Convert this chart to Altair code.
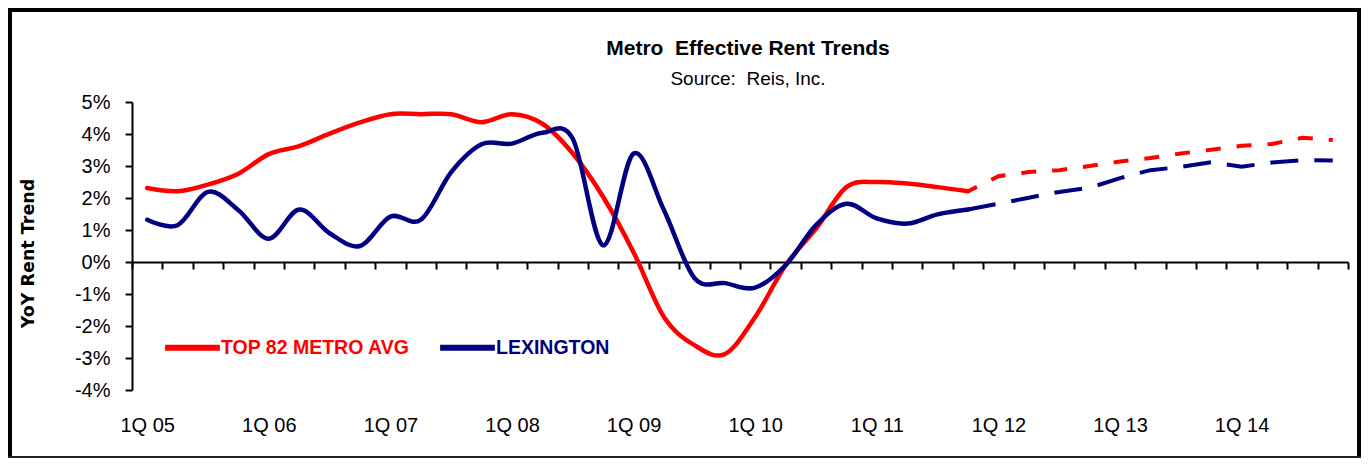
import json
import altair as alt
import pandas as pd

# ---------------- data ----------------
years = ["05", "06", "07", "08", "09", "10", "11", "12", "13", "14"]
quarters = [f"{q}Q {y}" for y in years for q in (1, 2, 3, 4)]   # 1Q 05 .. 4Q 14
year_labels = [f"1Q {y}" for y in years]
y_ticks = [-4, -3, -2, -1, 0, 1, 2, 3, 4, 5]

series_names = ["TOP 82 METRO AVG", "LEXINGTON"]
series_colors = ["#FF0000", "#000080"]

# actual YoY effective rent change, 1Q 05 .. 4Q 11 (%)
metro_actual = [2.31, 2.21, 2.42, 2.76, 3.37, 3.62, 4.01, 4.36,
                4.62, 4.62, 4.62, 4.37, 4.62, 4.32, 3.39, 2.03,
                0.30, -1.72, -2.60, -2.88, -1.72, -0.10, 1.04, 2.34,
                2.50, 2.45, 2.34, 2.21]
lex_actual = [1.32, 1.15, 2.19, 1.62, 0.73, 1.64, 0.90, 0.50,
              1.42, 1.32, 2.81, 3.68, 3.70, 4.04, 3.85, 0.52,
              3.39, 1.62, -0.50, -0.66, -0.80, -0.10, 1.15, 1.82,
              1.36, 1.20, 1.49, 1.64]

# forecast, 4Q 11 .. 4Q 14 (%)
forecast_start = 27
metro_forecast = [2.21, 2.68, 2.81, 2.87, 3.00, 3.14, 3.25, 3.39,
                  3.51, 3.63, 3.69, 3.88, 3.81]
lex_forecast = [1.64, 1.82, 2.01, 2.19, 2.32, 2.62, 2.87, 2.97,
                3.12, 2.98, 3.11, 3.18, 3.17]

# ---------------- tables ----------------
def rows(values, name, start):
    return [{"quarter": quarters[start + i], "pos": start + i + 0.5,
             "value": v, "series": name} for i, v in enumerate(values)]

actual = pd.DataFrame(rows(metro_actual, series_names[0], 0) +
                      rows(lex_actual, series_names[1], 0))
forecast = pd.DataFrame(rows(metro_forecast, series_names[0], forecast_start) +
                        rows(lex_forecast, series_names[1], forecast_start))

# ---------------- layout ----------------
W, H = 1216, 288
L, T, R, B = 124, 94, 13, 68
n_q = len(quarters)
q_px = W / n_q
zero_y = H * (max(y_ticks) - 0) / (max(y_ticks) - min(y_ticks))

FONT = "Liberation Sans, Arial, sans-serif"

x_scale = alt.Scale(domain=[0, n_q], nice=False, zero=False)
y_scale = alt.Scale(domain=[min(y_ticks), max(y_ticks)], nice=False, zero=False)
color_scale = alt.Scale(domain=series_names, range=series_colors)

label_expr = (f"datum.value % 4 == 0 && datum.value < {n_q} ? "
              f"{json.dumps(year_labels)}[datum.value / 4] : ''")

x_axis = alt.Axis(values=list(range(n_q + 1)), labelExpr=label_expr, title=None,
                  offset=zero_y - H, tickSize=7, tickWidth=2, tickColor="black",
                  domainColor="black", domainWidth=2, grid=False,
                  labelPadding=156, labelOffset=q_px / 2, labelBaseline="middle",
                  labelOverlap=False, labelBound=False, labelFlush=False,
                  labelFont=FONT, labelFontSize=20, labelColor="black")
y_axis = alt.Axis(values=y_ticks, tickCount=len(y_ticks),
                  labelExpr="datum.value + '%'",
                  title="YoY Rent Trend", titleFont="DejaVu Sans",
                  titleFontSize=17.5, titleFontWeight="bold", titleColor="black",
                  titleAngle=270, titleX=-103.5, titleY=151,
                  titleAlign="center", titleBaseline="middle",
                  tickSize=7, tickWidth=2, tickColor="black",
                  domainColor="black", domainWidth=2, grid=False,
                  labelOverlap=False, labelBound=False, labelFlush=False,
                  labelPadding=15, labelFont=FONT, labelFontSize=20,
                  labelColor="black")

label_color_expr = (f"datum.value == '{series_names[1]}' ? "
                    f"'{series_colors[1]}' : '{series_colors[0]}'")
legend = alt.Legend(title=None, orient="none", legendX=30, legendY=215,
                    direction="horizontal", symbolType="stroke",
                    symbolSize=3000, symbolStrokeWidth=6,
                    labelOffset={"expr": "-2"},
                    columnPadding=18, padding=0, labelFont=FONT,
                    labelFontSize=19.5, labelFontWeight="bold", labelLimit=500,
                    labelColor={"expr": label_color_expr})

X = alt.X("pos:Q", scale=x_scale, axis=x_axis)
Y = alt.Y("value:Q", scale=y_scale, axis=y_axis)

actual_lines = alt.Chart(actual).mark_line(
    interpolate="cardinal", strokeWidth=4.5, strokeJoin="round", strokeCap="round"
).encode(
    x=X, y=Y,
    color=alt.Color("series:N", scale=color_scale, legend=legend, sort=series_names),
    order=alt.Order("pos:Q"),
)

metro_fc = alt.Chart(forecast[forecast.series == series_names[0]]).mark_line(
    strokeWidth=4, strokeDash=[15, 16], strokeDashOffset=5, strokeCap="butt"
).encode(
    x=X, y=Y,
    color=alt.Color("series:N", scale=color_scale, legend=None),
)
lex_fc = alt.Chart(forecast[forecast.series == series_names[1]]).mark_line(
    strokeWidth=4, strokeDash=[28, 16], strokeCap="butt"
).encode(
    x=X, y=Y,
    color=alt.Color("series:N", scale=color_scale, legend=None),
)

# outer frame (decoration)
one = pd.DataFrame({"k": [0]})
frame_left = alt.Chart(one).mark_rule(color="black", strokeWidth=4).encode(
    x=alt.value(-L + 2), y=alt.value(-T), y2=alt.value(H + B))
frame_right = alt.Chart(one).mark_rule(color="black", strokeWidth=4).encode(
    x=alt.value(W + R - 2), y=alt.value(-T), y2=alt.value(H + B))
frame_top = alt.Chart(one).mark_rule(color="black", strokeWidth=4).encode(
    y=alt.value(-T + 2), x=alt.value(-L), x2=alt.value(W + R))
frame_bottom = alt.Chart(one).mark_rule(color="#222222", strokeWidth=2).encode(
    y=alt.value(H + B - 1), x=alt.value(-L), x2=alt.value(W + R))

chart = alt.layer(
    actual_lines.transform_filter(alt.datum.series == series_names[0]),
    actual_lines.transform_filter(alt.datum.series == series_names[1]),
    metro_fc, lex_fc,
    frame_left, frame_right, frame_top, frame_bottom,
).properties(
    width=W, height=H,
    autosize=alt.AutoSizeParams(type="none"),
    padding={"left": L, "top": T, "right": R, "bottom": B},
    title=alt.TitleParams(
        text="Metro\u00a0 Effective Rent Trends",
        subtitle="Source:\u00a0 Reis, Inc.",
        font=FONT, fontSize=21, fontWeight="bold", color="black",
        subtitleFont=FONT, subtitleFontSize=19, subtitleColor="black",
        subtitlePadding=11, anchor="middle", frame="group", dx=8, offset=-83,
    ),
).configure(background="white").configure_view(stroke=None)

chart.save("out.html", embed_options={"renderer": "svg", "actions": False})
